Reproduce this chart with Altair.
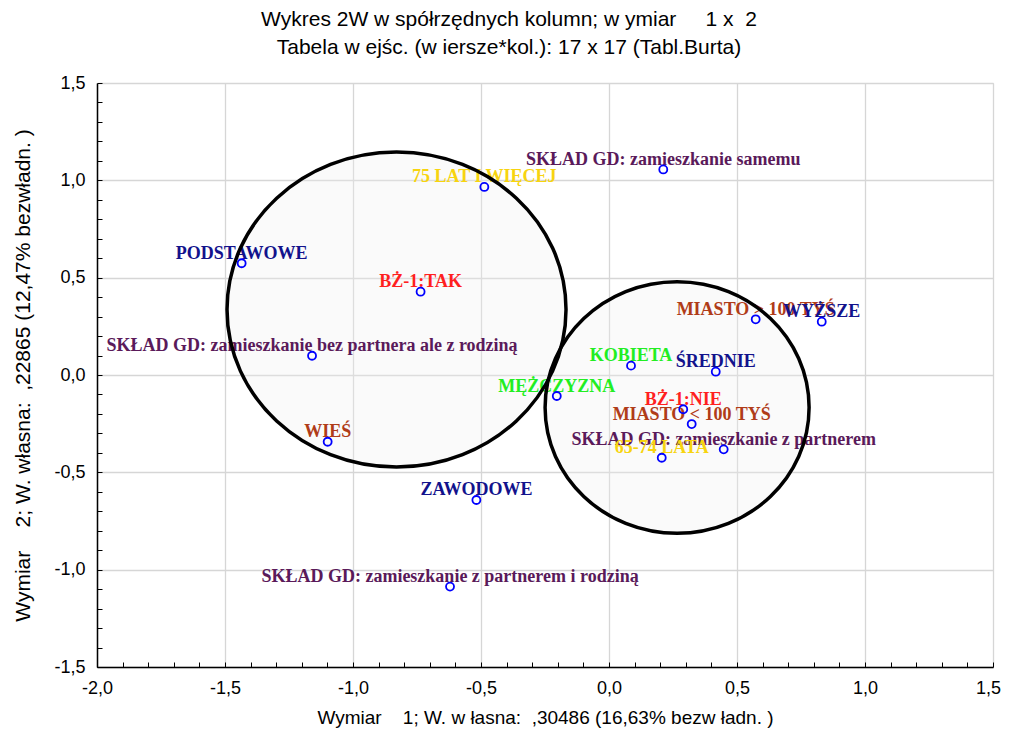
import altair as alt
import pandas as pd

# ---- data ----
labels = [
    "SKŁAD GD: zamieszkanie samemu",
    "75 LAT I WIĘCEJ",
    "PODSTAWOWE",
    "BŻ-1:TAK",
    "SKŁAD GD: zamieszkanie bez partnera ale z rodziną",
    "KOBIETA",
    "ŚREDNIE",
    "MIASTO > 100 TYŚ",
    "WYŻSZE",
    "MĘŻCZYZNA",
    "BŻ-1:NIE",
    "MIASTO < 100 TYŚ",
    "WIEŚ",
    "SKŁAD GD: zamieszkanie z partnerem",
    "65-74 LATA",
    "ZAWODOWE",
    "SKŁAD GD: zamieszkanie z partnerem i rodziną",
]
dim1 = [0.212, -0.487, -1.435, -0.736, -1.160, 0.086, 0.417, 0.573, 0.831,
        -0.204, 0.290, 0.323, -1.099, 0.448, 0.206, -0.518, -0.621]
dim2 = [1.056, 0.966, 0.574, 0.428, 0.099, 0.048, 0.017, 0.286, 0.274,
        -0.108, -0.176, -0.252, -0.343, -0.382, -0.425, -0.642, -1.087]
groups = ["sklad", "wiek", "wyksztalcenie", "bz", "sklad", "plec", "wyksztalcenie",
          "miejsce", "wyksztalcenie", "plec", "bz", "miejsce", "miejsce", "sklad",
          "wiek", "wyksztalcenie", "sklad"]

group_names = ["sklad", "wyksztalcenie", "bz", "miejsce", "wiek", "plec"]
group_colors = ["#5a1a5a", "#12128c", "#ff1f1f", "#b03c18", "#f7d40f", "#22ee22"]

# circled clusters (centres)
ellipse_x = [-0.830, 0.266]
ellipse_y = [0.336, -0.167]

x_major = [-2.0, -1.5, -1.0, -0.5, 0.0, 0.5, 1.0, 1.5]
y_major = [-1.5, -1.0, -0.5, 0.0, 0.5, 1.0, 1.5]
x_minor = [round(-2.0 + 0.1 * i, 1) for i in range(36)]
y_minor = [round(-1.5 + 0.1 * i, 1) for i in range(31)]

title_lines = ["Wykres 2W w spółrzędnych kolumn; w ymiar\u00a0\u00a0\u00a0\u00a0 1 x\u00a0 2",
               "Tabela w ejśc. (w iersze*kol.): 17 x 17 (Tabl.Burta)"]
x_title = "Wymiar\u00a0\u00a0\u00a0 1; W. w łasna:\u00a0 ,30486 (16,63% bezw ładn. )"
y_title = "Wymiar\u00a0\u00a0\u00a0 2; W. własna:\u00a0 ,22865 (12,47% bezwładn. )"

df = pd.DataFrame({"label": labels, "x": dim1, "y": dim2, "group": groups})
ell = pd.DataFrame({"x": ellipse_x, "y": ellipse_y})

W, H = 896, 584
xscale = alt.Scale(domain=[-2.0, 1.5], nice=False, zero=False)
yscale = alt.Scale(domain=[-1.5, 1.5], nice=False, zero=False)

lab_expr = "(datum.value < 0 ? '-' : '') + replace(format(abs(datum.value), '.1f'), '.', ',')"

x_main = alt.Axis(orient="bottom", values=x_major, labelExpr=lab_expr, grid=True,
                  gridColor="#d6d6d6", gridWidth=1.3, ticks=False, domainColor="black",
                  domainWidth=1.5, labelFont="Liberation Sans", labelFontSize=18,
                  labelColor="black", labelPadding=12, labelFlush=False,
                  labelOffset={"condition": {"test": "datum.value >= 1.5", "value": -5},
                               "value": 0},
                  title=x_title, titleFont="Liberation Sans", titleFontSize=19,
                  titleFontWeight="normal", titleColor="black", titlePadding=11)
y_main = alt.Axis(orient="left", values=y_major, labelExpr=lab_expr, grid=True,
                  gridColor="#d6d6d6", gridWidth=1.3, ticks=False, domainColor="black",
                  domainWidth=1.5, labelFont="Liberation Sans", labelFontSize=18,
                  labelColor="black", labelPadding=12, labelFlush=False,
                  title=y_title, titleFont="Liberation Sans", titleFontSize=21,
                  titleFontWeight="normal", titleColor="black", titlePadding=20)
x_minor_ax = alt.Axis(orient="top", values=x_minor, labels=False, domain=False, grid=False,
                      ticks=True, tickSize=5, tickColor="black", tickWidth=1, offset=-H,
                      title=None)
y_minor_ax = alt.Axis(orient="right", values=y_minor, labels=False, domain=False, grid=False,
                      ticks=True, tickSize=5, tickColor="black", tickWidth=1, offset=-W,
                      title=None)


def ellipse_path(r):
    k = 0.5523
    return (f"M -1 0 C -1 {-k*r:.4f} {-k:.4f} {-r:.4f} 0 {-r:.4f} "
            f"C {k:.4f} {-r:.4f} 1 {-k*r:.4f} 1 0 "
            f"C 1 {k*r:.4f} {k:.4f} {r:.4f} 0 {r:.4f} "
            f"C {-k:.4f} {r:.4f} -1 {k*r:.4f} -1 0 Z")


shape1 = ellipse_path(157.5 / 169.5)
shape2 = ellipse_path(125.8 / 132.0)
size1 = 339 ** 2
size2 = 264 ** 2

fill1 = alt.Chart(ell.iloc[[0]]).mark_point(
    shape=shape1, size=size1, filled=True, color="#eeeeee", opacity=0.3, strokeWidth=0
).encode(
    x=alt.X("x:Q", scale=xscale, axis=x_minor_ax),
    y=alt.Y("y:Q", scale=yscale, axis=y_minor_ax),
)
fill2 = alt.Chart(ell.iloc[[1]]).mark_point(
    shape=shape2, size=size2, filled=True, color="#eeeeee", opacity=0.3, strokeWidth=0
).encode(
    x=alt.X("x:Q", scale=xscale, axis=None),
    y=alt.Y("y:Q", scale=yscale, axis=None),
)

texts = alt.Chart(df).mark_text(
    font="Liberation Serif", fontWeight="bold", fontSize=18,
    baseline="alphabetic", align="center", dy=-4.5
).encode(
    x=alt.X("x:Q", scale=xscale, axis=None),
    y=alt.Y("y:Q", scale=yscale, axis=None),
    text="label:N",
    color=alt.Color("group:N", scale=alt.Scale(domain=group_names, range=group_colors),
                    legend=None),
)

ring1 = alt.Chart(ell.iloc[[0]]).mark_point(
    shape=shape1, size=size1, filled=False, color="black", strokeWidth=3.5, opacity=1
).encode(
    x=alt.X("x:Q", scale=xscale, axis=None),
    y=alt.Y("y:Q", scale=yscale, axis=None),
)
ring2 = alt.Chart(ell.iloc[[1]]).mark_point(
    shape=shape2, size=size2, filled=False, color="black", strokeWidth=3.5, opacity=1
).encode(
    x=alt.X("x:Q", scale=xscale, axis=None),
    y=alt.Y("y:Q", scale=yscale, axis=None),
)

points = alt.Chart(df).mark_point(
    shape="circle", size=64, filled=False, color="#0000ff", strokeWidth=1.8, opacity=1
).encode(
    x=alt.X("x:Q", scale=xscale, axis=x_main),
    y=alt.Y("y:Q", scale=yscale, axis=y_main),
)

chart = alt.layer(fill1, fill2, texts, ring1, ring2, points).resolve_axis(
    x="independent", y="independent"
).properties(
    width=W, height=H,
    autosize="none",
    padding={"left": 89, "top": 75, "right": 9, "bottom": 61},
    title=alt.TitleParams(text=title_lines, font="Liberation Sans", fontSize=21,
                          fontWeight="normal", color="black", lineHeight=28,
                          anchor="middle", dx=-36, offset=16),
).configure_view(
    stroke="black", strokeWidth=1.5
).configure(background="white")

chart.save("out.html", embed_options={"renderer": "svg", "actions": False})
